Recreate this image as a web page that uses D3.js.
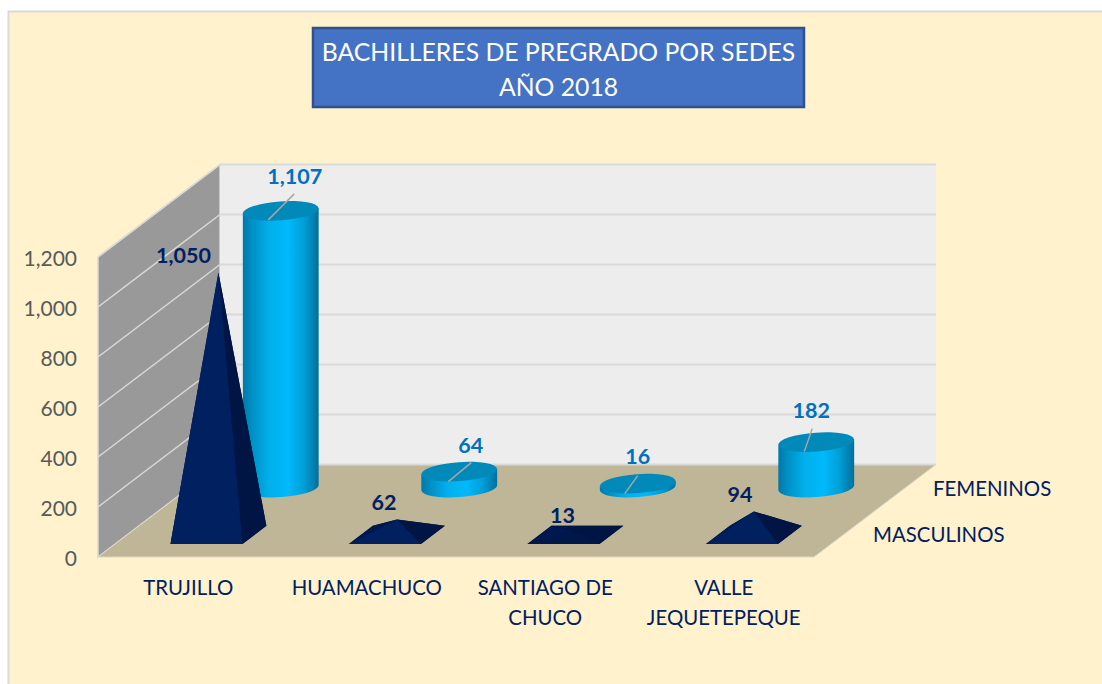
<!DOCTYPE html>
<html>
<head>
<meta charset="utf-8">
<script src="https://cdn.jsdelivr.net/npm/d3@7"></script>
<style>
	html, body { margin: 0; padding: 0; background: #fff; }
	svg { display: block; }
	text { font-family: Lato, "Open Sans", sans-serif; }
</style>
</head>
<body>
<div id="chart"></div>
<script>
const sedes = [['TRUJILLO'], ['HUAMACHUCO'], ['SANTIAGO DE', 'CHUCO'], ['VALLE', 'JEQUETEPEQUE']];
const masculinos = [1050, 62, 13, 94];
const femeninos = [1107, 64, 16, 182];
const yTicks = [0, 200, 400, 600, 800, 1000, 1200];
const seriesNames = ['MASCULINOS', 'FEMENINOS'];
const titleLines = ['BACHILLERES DE PREGRADO POR SEDES', 'AÑO 2018'];

//label nudges, Excel moved some of them by hand
const masculinoLabelDx = [-35, -13, -13, -14];
const femeninoLabelDx = [14, 11.5, 0, -5];
const femeninoLabelDy = [-34, -26, -27, -31];
const leaderStart = [[-12.5, 9], [-11, 10], [-13, 10], [-12, 9.5]];
const leaderEnd = [[13.5, -17], [12, -9], [0, -8], [-4, -13.5]];

const w = 1102, h = 684;
const plot = d3.select('#chart').append('svg')
	.attr('width', w)
	.attr('height', h);

//Background
plot.append('rect')
	.attr('x', 8.5).attr('y', 11.5)
	.attr('width', w).attr('height', h)
	.style('fill', '#fff2cc')
	.style('stroke', '#d9d9d9')
	.style('stroke-width', 2);

//Title
plot.append('rect')
	.attr('x', 313).attr('y', 28)
	.attr('width', 491).attr('height', 79)
	.style('fill', '#4472c4')
	.style('stroke', '#2f528f')
	.style('stroke-width', 2.5);

plot.selectAll('.title')
	.data(titleLines)
	.enter()
	.append('text')
	.attr('class', 'title')
	.attr('x', 558.5)
	.attr('y', (d, i) => 60.5 + i * 35.5)
	.attr('text-anchor', 'middle')
	.style('font-size', '24.75px')
	.style('fill', '#fff')
	.text(d => d);

//Scales, depth is a fraction of the way from the front edge of the floor to the back wall
const depthX = 122, depthY = 92.5;
const x = d3.scaleBand().domain(sedes.map(d => d.join(' '))).range([100, 814]);
const y = d3.scaleLinear().domain([0, 1200]).range([557, 257]);
const depth = d3.scalePoint().domain(seriesNames).range([0.239, 0.75]);

function project(px, v, dep){
	return [px + dep * depthX, y(v) - dep * depthY];
}
const poly = pts => 'M' + pts.map(p => p.join(',')).join('L') + 'Z';

//Walls and floor
const x0 = 98, x1 = 814;
plot.append('path')
	.attr('d', poly([project(x0, 0, 0), project(x0, 1200, 0), project(x0, 1200, 1), project(x0, 0, 1)]))
	.style('fill', '#999999')
	.style('stroke', '#d9d9d9')
	.style('stroke-width', 1.5);
plot.append('path')
	.attr('d', poly([project(x0, 0, 1), project(x0, 1200, 1), project(x1, 1200, 1), project(x1, 0, 1)]))
	.style('fill', '#ededed');
plot.append('path')
	.attr('d', poly([project(x0, 0, 0), project(x0, 0, 1), project(x1, 0, 1), project(x1, 0, 0)]))
	.style('fill', '#bfb597')
	.style('stroke', '#dcd8c8')
	.style('stroke-width', 1);

//Gridlines
plot.selectAll('.grid-side')
	.data(yTicks.slice(1))
	.enter()
	.append('path')
	.attr('class', 'grid-side')
	.attr('d', d => d3.line()([project(x0, d, 0), project(x0, d, 1)]))
	.style('stroke', '#d9d9d9')
	.style('stroke-width', 1.5);
plot.selectAll('.grid-back')
	.data(yTicks)
	.enter()
	.append('path')
	.attr('class', 'grid-back')
	.attr('d', d => d3.line()([project(x0, d, 1), project(x1, d, 1)]))
	.style('stroke', '#d9d9d9')
	.style('stroke-width', 2);

//Y axis
const yAxis = d3.axisLeft(y)
	.tickValues(yTicks)
	.tickFormat(d3.format(','))
	.tickSize(0)
	.tickPadding(0);
const axisG = plot.append('g')
	.attr('transform', 'translate(77,2)')
	.call(yAxis);
axisG.select('.domain').remove();
axisG.selectAll('text')
	.style('font-family', 'Lato, sans-serif')
	.style('font-size', '21px')
	.style('fill', '#595959');

//Cylinder gradient
const defs = plot.append('defs');
const grad = defs.append('linearGradient').attr('id', 'cyl');
[[0, '#0078a8'], [0.12, '#0090c4'], [0.35, '#00b0ec'], [0.6, '#00b9fb'], [0.8, '#00a0d8'], [1, '#00709c']]
	.forEach(s => grad.append('stop').attr('offset', s[0]).attr('stop-color', s[1]));

//Femeninos, cylinders
const rx = 38, ry = 9.5, tilt = -4;
const tiltRad = tilt * Math.PI / 180;
const dxEnd = rx * Math.cos(tiltRad), dyEnd = rx * Math.sin(tiltRad);
const femDepth = depth('FEMENINOS');
const masDepth = depth('MASCULINOS');
const cx = (d, i) => x(x.domain()[i]) + x.bandwidth() / 2;

const fem = plot.selectAll('.fem')
	.data(femeninos)
	.enter()
	.append('g')
	.attr('class', 'fem');

fem.append('path')
	.attr('d', function(d, i){
		const base = project(cx(d, i), 0, femDepth);
		const top = project(cx(d, i), d, femDepth);
		return `M${top[0] - dxEnd},${top[1] - dyEnd}` +
			`L${base[0] - dxEnd},${base[1] - dyEnd}` +
			`A${rx},${ry} ${tilt} 0 0 ${base[0] + dxEnd},${base[1] + dyEnd}` +
			`L${top[0] + dxEnd},${top[1] + dyEnd}Z`;
	})
	.style('fill', 'url(#cyl)');

fem.append('ellipse')
	.attr('rx', rx)
	.attr('ry', ry)
	.attr('transform', function(d, i){
		const top = project(cx(d, i), d, femDepth);
		return `translate(${top[0]},${top[1]}) rotate(${tilt})`;
	})
	.style('fill', '#0089b9');

//Masculinos, pyramids
const halfW = 36, halfD = 0.098;
const mas = plot.selectAll('.mas')
	.data(masculinos)
	.enter()
	.append('g')
	.attr('class', 'mas');

function corners(i){
	const c = cx(null, i);
	return {
		fl: project(c - halfW, 0, masDepth - halfD),
		fr: project(c + halfW, 0, masDepth - halfD),
		br: project(c + halfW, 0, masDepth + halfD),
		bl: project(c - halfW, 0, masDepth + halfD)
	};
}
const apex = (d, i) => project(cx(d, i), d, masDepth);
//very low pyramids catch less light on the front face
const frontShade = d => d3.interpolateRgb('#001544', '#002060')(Math.min(1, d / 60));

mas.append('path') //base, hides the seams between faces
	.attr('d', (d, i) => poly([corners(i).fl, corners(i).fr, corners(i).br, corners(i).bl]))
	.style('fill', '#001544');
mas.append('path') //back
	.attr('d', (d, i) => poly([corners(i).bl, corners(i).br, apex(d, i)]))
	.style('fill', '#001544');
mas.append('path') //left
	.attr('d', (d, i) => poly([corners(i).fl, corners(i).bl, apex(d, i)]))
	.style('fill', '#001850');
mas.append('path') //right
	.attr('d', (d, i) => poly([corners(i).fr, corners(i).br, apex(d, i)]))
	.style('fill', '#001544');
mas.append('path') //front
	.attr('d', (d, i) => poly([corners(i).fl, corners(i).fr, apex(d, i)]))
	.style('fill', d => frontShade(d));

//Leader lines
plot.selectAll('.leader')
	.data(femeninos)
	.enter()
	.append('path')
	.attr('class', 'leader')
	.attr('d', function(d, i){
		const top = project(cx(d, i), d, femDepth);
		return d3.line()([
			[top[0] + leaderStart[i][0], top[1] + leaderStart[i][1]],
			[top[0] + leaderEnd[i][0], top[1] + leaderEnd[i][1]]
		]);
	})
	.style('stroke', '#a6a6a6')
	.style('stroke-width', 1.5);

//Data labels
plot.selectAll('.label-fem')
	.data(femeninos)
	.enter()
	.append('text')
	.attr('class', 'label-fem')
	.attr('x', (d, i) => project(cx(d, i), d, femDepth)[0] + femeninoLabelDx[i])
	.attr('y', (d, i) => project(cx(d, i), d, femDepth)[1] + femeninoLabelDy[i] + 7)
	.attr('text-anchor', 'middle')
	.style('font-size', '21.5px')
	.style('font-weight', 700)
	.style('fill', '#0070c0')
	.text(d => d3.format(',')(d));

plot.selectAll('.label-mas')
	.data(masculinos)
	.enter()
	.append('text')
	.attr('class', 'label-mas')
	.attr('x', (d, i) => apex(d, i)[0] + masculinoLabelDx[i])
	.attr('y', (d, i) => apex(d, i)[1] - 16 + 7)
	.attr('text-anchor', 'middle')
	.style('font-size', '21.5px')
	.style('font-weight', 700)
	.style('fill', '#002060')
	.text(d => d3.format(',')(d));

//Category labels
const cat = plot.selectAll('.cat')
	.data(sedes)
	.enter()
	.append('text')
	.attr('class', 'cat')
	.attr('text-anchor', 'middle')
	.style('font-size', '20.4px')
	.style('fill', '#002060');
cat.selectAll('tspan')
	.data((d, i) => d.map((t, j) => ({t: t, i: i, j: j})))
	.enter()
	.append('tspan')
	.attr('x', d => cx(null, d.i) - 1)
	.attr('y', d => 595 + d.j * 30)
	.text(d => d.t);

//Series labels
plot.append('text')
	.attr('x', 933).attr('y', 496)
	.style('font-size', '20.4px').style('fill', '#002060')
	.text('FEMENINOS');
plot.append('text')
	.attr('x', 873).attr('y', 542)
	.style('font-size', '20.4px').style('fill', '#002060')
	.text('MASCULINOS');
</script>
</body>
</html>
